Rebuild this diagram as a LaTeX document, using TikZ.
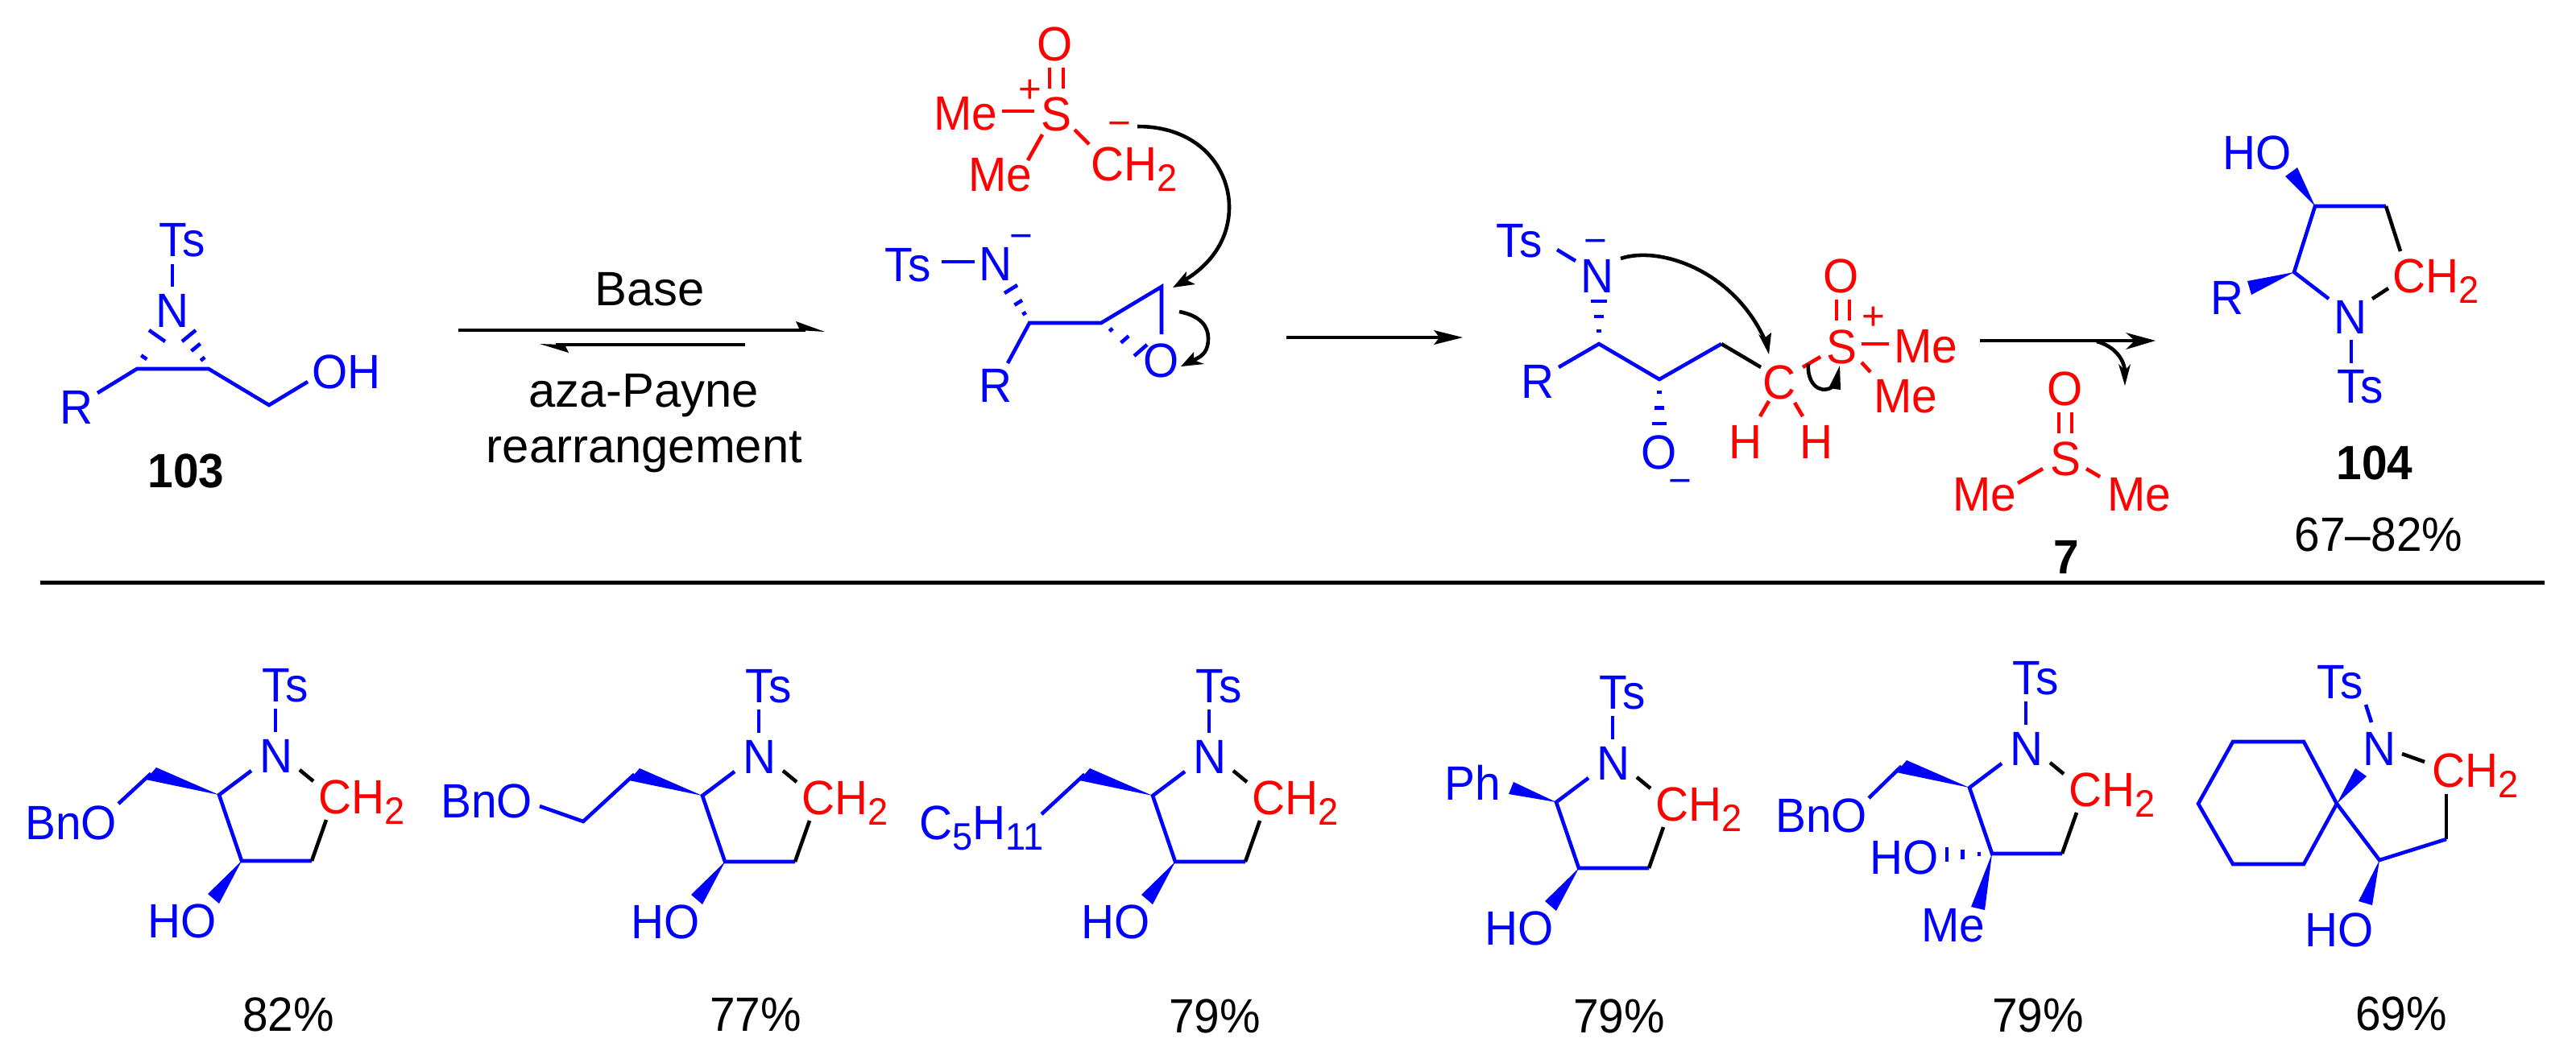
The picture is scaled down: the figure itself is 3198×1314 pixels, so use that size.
\documentclass[tikz,border=0pt]{standalone}
\usepackage{fontspec}
\setmainfont{Liberation Sans}
\newfontfamily\chemf[FakeStretch=0.95]{Liberation Sans}
\usetikzlibrary{calc}
\definecolor{chemblue}{RGB}{0,0,255}
\definecolor{chemred}{RGB}{255,0,0}
\newcommand{\sbs}[1]{\raisebox{-0.13cm}{\fontsize{13.5}{15}\selectfont #1}}
\tikzset{
  atom/.style={anchor=base,inner sep=0pt,font=\chemf\fontsize{17}{20}\selectfont},
  atomw/.style={atom,anchor=base west},
  lab/.style={anchor=base,inner sep=0pt,font=\fontsize{17}{20}\selectfont},
  num/.style={anchor=base,inner sep=0pt,font=\chemf\fontsize{17}{20}\selectfont\bfseries},
  chg/.style={anchor=base,yshift=-0.177cm,inner sep=0pt,font=\fontsize{14}{16}\selectfont},
  bd/.style={line width=1.3pt,chemblue},
  rd/.style={line width=1.3pt,chemred},
  bk/.style={line width=1.3pt,black},
  arw/.style={line width=1.3pt,black},
  head/.style={fill=black,draw=none},
  wedge/.style={fill=chemblue,draw=none}
}
% hashed bond: tip, two wide-end corners, list of fractions
\newcommand{\hashb}[4]{\foreach \t in {#4}{\draw[bd] ($(#1)!\t!(#2)$) -- ($(#1)!\t!(#3)$);}}
% common N-tosyl pyrrolidine skeleton
\newcommand{\pyr}[3]{%
\begin{scope}[shift={(#2,#3)}]
  \node[atom,chemblue] (#1N) at (343,959) {N};
  \node[atom,chemblue] (#1Ts) at (354,871) {Ts};
  \node[atomw,chemred] (#1CH) at (395,1010) {CH\sbs{2}};
  \path (342,880) coordinate (#1a) (342,909) coordinate (#1b)
        (272,987) coordinate (#1C2) (300,1069) coordinate (#1C3) (387,1069) coordinate (#1C4)
        (405,1018) coordinate (#1c) (312,957) coordinate (#1d)
        (372,956) coordinate (#1e) (389,970) coordinate (#1f);
  \draw[bd] (#1a) -- (#1b);
  \draw[bd] (#1d) -- (#1C2) -- (#1C3) -- (#1C4);
  \draw[bk] (#1C4) -- (#1c);
  \draw[bk] (#1e) -- (#1f);
\end{scope}}
% the 3-OH wedge
\newcommand{\hoW}[3]{%
\begin{scope}[shift={(#2,#3)}]
  \node[atom,chemblue] (#1HO) at (226,1164) {HO};
  \path (258,1110) coordinate (#1g) (272,1122) coordinate (#1h);
  \fill[wedge] (#1C3) -- (#1g) -- (#1h) -- cycle;
\end{scope}}
% the 2-substituent wedge plus a bond segment
\newcommand{\chW}[3]{%
\begin{scope}[shift={(#2,#3)}]
  \path (194,953) coordinate (#1i) (181,968) coordinate (#1j) (187.5,960.5) coordinate (#1k);
  \fill[wedge] (#1C2) -- (#1i) -- (#1j) -- cycle;
\end{scope}}
\begin{document}
\begin{tikzpicture}[x=0.01cm,y=-0.01cm]
\useasboundingbox (0,0) rectangle (3198,1314);

% ---------- compound 103
\node[atom,chemblue] (aTs) at (226,318) {Ts};
\node[atom,chemblue] (aN) at (214,406) {N};
\node[atom,chemblue] (aR) at (95,526) {R};
\node[atom,chemblue] (aOH) at (430,482) {OH};
\node[num] (a103) at (231,605) {103};
\path (214,328) coordinate (a1) (214,356) coordinate (a2)
      (170,458) coordinate (aC1) (259,458) coordinate (aC2)
      (121,488) coordinate (a3) (334,503) coordinate (aC3) (382,474) coordinate (a4)
      (185,410) coordinate (a5) (205,424) coordinate (a6)
      (243,410) coordinate (a7) (226,424) coordinate (a8);
\draw[bd] (a1) -- (a2);
\draw[bd] (a3) -- (aC1) -- (aC2) -- (aC3) -- (a4);
\hashb{aC1}{a5}{a6}{1,0.35}
\hashb{aC2}{a7}{a8}{1,0.65,0.3}

% ---------- equilibrium arrows
\node[lab] (lBase) at (807,379) {Base};
\node[lab] (lAza) at (799,505) {aza-Payne};
\node[lab] (lRe) at (800,574) {rearrangement};
\path (569,410) coordinate (e1) (1000,410) coordinate (e2)
      (1024,412) coordinate (e3) (988,399) coordinate (e4) (993,410) coordinate (e5)
      (925,428) coordinate (e6) (690,428) coordinate (e7)
      (670,427) coordinate (e8) (706,438) coordinate (e9) (701,428) coordinate (e10);
\draw[arw] (e1) -- (e2);
\fill[head] (e3) -- (e4) -- (e5) -- cycle;
\draw[arw] (e6) -- (e7);
\fill[head] (e8) -- (e9) -- (e10) -- cycle;

% ---------- sulfoxonium ylide (red)
\node[atom,chemred] (yO) at (1310,75) {O};
\node[atom,chemred] (yS) at (1311,162) {S};
\node[atom,chemred] (yMe1) at (1199,161) {Me};
\node[atom,chemred] (yMe2) at (1242,237) {Me};
\node[atomw,chemred] (yCH) at (1354,224) {CH\sbs{2}};
\node[chg,chemred] (yP) at (1279,110) {+};
\node[chg,chemred] (yM) at (1390,152) {−};
\path (1303,84) coordinate (y1) (1303,110) coordinate (y2)
      (1320,84) coordinate (y3) (1320,110) coordinate (y4)
      (1244,138) coordinate (y5) (1284,138) coordinate (y6)
      (1294,167) coordinate (y7) (1276,199) coordinate (y8)
      (1334,161) coordinate (y9) (1352,179) coordinate (y10);
\draw[rd] (y1) -- (y2);
\draw[rd] (y3) -- (y4);
\draw[rd] (y5) -- (y6);
\draw[rd] (y7) -- (y8);
\draw[rd] (y9) -- (y10);

% ---------- epoxide intermediate
\node[atom,chemblue] (bTs) at (1127,349) {Ts};
\node[atom,chemblue] (bN) at (1236,348) {N};
\node[chg,chemblue] (bM) at (1268,292) {−};
\node[atom,chemblue] (bR) at (1236,499) {R};
\node[atom,chemblue] (bO) at (1442,468) {O};
\path (1169,325) coordinate (b1) (1210,325) coordinate (b2)
      (1278,401) coordinate (bC1) (1367,401) coordinate (bC2) (1442,356) coordinate (bC3)
      (1442,415) coordinate (b3) (1251,451) coordinate (b4)
      (1247,364) coordinate (b5) (1263,354) coordinate (b6)
      (1408,442) coordinate (b7) (1424,428) coordinate (b8);
\draw[bd] (b1) -- (b2);
\draw[bd] (b4) -- (bC1) -- (bC2) -- (bC3) -- (b3);
\hashb{bC1}{b5}{b6}{1,0.6,0.28}
\hashb{bC2}{b7}{b8}{0.25,0.6,1}

% curved arrows on the epoxide
\path (1412,157) coordinate (c1) (1490,157) coordinate (c2) (1526,210) coordinate (c3)
      (1526,257) coordinate (c4) (1526,300) coordinate (c5) (1500,330) coordinate (c6)
      (1472,347) coordinate (c7) (1456,357) coordinate (c8) (1473,337) coordinate (c9) (1484,353) coordinate (c10);
\draw[arw] (c1) .. controls (c2) and (c3) .. (c4) .. controls (c5) and (c6) .. (c7);
\fill[head] (c8) -- (c9) -- (c7) -- (c10) -- cycle;
\path (1464,387) coordinate (d1) (1490,392) coordinate (d2) (1500,405) coordinate (d3)
      (1500,420) coordinate (d4) (1500,435) coordinate (d5) (1494,442) coordinate (d6)
      (1482,447) coordinate (d7) (1466,455) coordinate (d8) (1482,437) coordinate (d9) (1495,452) coordinate (d10);
\draw[arw] (d1) .. controls (d2) and (d3) .. (d4) .. controls (d5) and (d6) .. (d7);
\fill[head] (d8) -- (d9) -- (d7) -- (d10) -- cycle;

% ---------- middle arrow
\path (1597,419) coordinate (m1) (1787,419) coordinate (m2) (1816,419) coordinate (m3)
      (1780,410) coordinate (m4) (1780,428) coordinate (m5);
\draw[arw] (m1) -- (m2);
\fill[head] (m3) -- (m4) -- (m2) -- (m5) -- cycle;

% ---------- open-chain intermediate
\node[atom,chemblue] (fTs) at (1886,319) {Ts};
\node[atom,chemblue] (fN) at (1983,363) {N};
\node[chg,chemblue] (fM1) at (1981,298) {−};
\node[atom,chemblue] (fR) at (1909,494) {R};
\node[atom,chemblue] (fO) at (2060,582) {O};
\node[chg,chemblue] (fM2) at (2086,596) {−};
\node[atom,chemred] (fC) at (2209,495) {C};
\node[atom,chemred] (fH1) at (2167,569) {H};
\node[atom,chemred] (fH2) at (2255,569) {H};
\node[atom,chemred] (fS) at (2286,451) {S};
\node[atom,chemred] (fOs) at (2286,363) {O};
\node[chg,chemred] (fP) at (2326,392) {+};
\node[atom,chemred] (fMe1) at (2391,450) {Me};
\node[atom,chemred] (fMe2) at (2366,512) {Me};
\path (1933,310) coordinate (f1) (1956,324) coordinate (f2)
      (1985,427) coordinate (fC1) (2060,471) coordinate (fC2) (2137,427) coordinate (fC3)
      (1935,456) coordinate (f3) (2186,456) coordinate (f4)
      (1975,374) coordinate (f5) (1995,374) coordinate (f6)
      (2051,526) coordinate (f7) (2069,526) coordinate (f8)
      (2196,498) coordinate (f9) (2185,517) coordinate (f10)
      (2228,500) coordinate (f11) (2238,517) coordinate (f12)
      (2238,456) coordinate (f13) (2260,443) coordinate (f14)
      (2280,372) coordinate (f15) (2280,398) coordinate (f16)
      (2296,372) coordinate (f17) (2296,398) coordinate (f18)
      (2311,427) coordinate (f19) (2345,427) coordinate (f20)
      (2311,450) coordinate (f21) (2322,462) coordinate (f22);
\draw[bd] (f1) -- (f2);
\draw[bd] (f3) -- (fC1) -- (fC2) -- (fC3);
\draw[bk] (fC3) -- (f4);
\hashb{fC1}{f5}{f6}{1,0.64,0.3}
\hashb{fC2}{f7}{f8}{1,0.64,0.29}
\draw[rd] (f9) -- (f10);
\draw[rd] (f11) -- (f12);
\draw[rd] (f13) -- (f14);
\draw[rd] (f15) -- (f16);
\draw[rd] (f17) -- (f18);
\draw[rd] (f19) -- (f20);
\draw[rd] (f21) -- (f22);
% curved arrows
\path (2012,321) coordinate (g1) (2060,305) coordinate (g2) (2150,335) coordinate (g3)
      (2190,420) coordinate (g4) (2196,440) coordinate (g5) (2183,415) coordinate (g6) (2199,413) coordinate (g7);
\draw[arw] (g1) .. controls (g2) and (g3) .. (g4);
\fill[head] (g5) -- (g6) -- (g4) -- (g7) -- cycle;
\path (2245,452) coordinate (h1) (2243,475) coordinate (h2) (2258,490) coordinate (h3)
      (2274,481) coordinate (h4) (2284,454) coordinate (h5) (2270,482) coordinate (h6) (2285,484) coordinate (h7);
\draw[arw] (h1) .. controls (h2) and (h3) .. (h4);
\fill[head] (h5) -- (h6) -- (h7) -- cycle;

% ---------- last arrow
\path (2458,423) coordinate (k1) (2650,423) coordinate (k2) (2676,423) coordinate (k3)
      (2639,413) coordinate (k4) (2639,434) coordinate (k5)
      (2603,424) coordinate (k6) (2625,430) coordinate (k7) (2636,445) coordinate (k8) (2638,460) coordinate (k9)
      (2638,479) coordinate (k10) (2630,452) coordinate (k11) (2645,452) coordinate (k12);
\draw[arw] (k1) -- (k2);
\fill[head] (k3) -- (k4) -- (k2) -- (k5) -- cycle;
\draw[arw] (k6) .. controls (k7) and (k8) .. (k9);
\fill[head] (k10) -- (k11) -- (k9) -- (k12) -- cycle;

% ---------- DMSO 7
\node[atom,chemred] (sO) at (2564,503) {O};
\node[atom,chemred] (sS) at (2564,590) {S};
\node[atom,chemred] (sMe1) at (2464,634) {Me};
\node[atom,chemred] (sMe2) at (2656,634) {Me};
\node[num] (s7) at (2565,712) {7};
\path (2556,512) coordinate (s1) (2556,538) coordinate (s2)
      (2572,512) coordinate (s3) (2572,538) coordinate (s4)
      (2536,582) coordinate (s5) (2505,600) coordinate (s6)
      (2590,582) coordinate (s8) (2607,592) coordinate (s9);
\draw[rd] (s1) -- (s2);
\draw[rd] (s3) -- (s4);
\draw[rd] (s5) -- (s6);
\draw[rd] (s8) -- (s9);

% ---------- product 104
\node[atom,chemblue] (pHO) at (2802,210) {HO};
\node[atom,chemblue] (pR) at (2765,390) {R};
\node[atom,chemblue] (pN) at (2918,414) {N};
\node[atom,chemblue] (pTs) at (2930,500) {Ts};
\node[atomw,chemred] (pCH) at (2970,363) {CH\sbs{2}};
\node[num] (p104) at (2948,595) {104};
\node[atom] (pY) at (2953,684) {67–82\%};
\path (2874,256) coordinate (pC1) (2962,256) coordinate (pC2) (2980,312) coordinate (p1)
      (2848,338) coordinate (pC3) (2891,371) coordinate (p2)
      (2945,371) coordinate (p3) (2965,358) coordinate (p4)
      (2919,422) coordinate (p5) (2919,451) coordinate (p6)
      (2837,219) coordinate (p7) (2852,208) coordinate (p8)
      (2790,349) coordinate (p9) (2795,366) coordinate (p10);
\draw[bd] (pC2) -- (pC1) -- (pC3) -- (p2);
\draw[bk] (pC2) -- (p1);
\draw[bk] (p3) -- (p4);
\draw[bd] (p5) -- (p6);
\fill[wedge] (pC1) -- (p7) -- (p8) -- cycle;
\fill[wedge] (pC3) -- (p9) -- (p10) -- cycle;

% ---------- separator
\path (50,723.5) coordinate (r1) (3159,723.5) coordinate (r2);
\draw[black,line width=1.4pt] (r1) -- (r2);

% ---------- example A
\pyr{A}{0}{0}
\hoW{A}{0}{0}
\chW{A}{0}{0}
\node[atom,chemblue] (ABn) at (88,1042) {BnO};
\path (147,998) coordinate (A1);
\draw[bd] (Ak) -- (A1);
\node[atom] (AY) at (358,1280) {82\%};

% ---------- example B
\pyr{B}{600}{1}
\hoW{B}{600}{1}
\chW{B}{600}{1}
\node[atom,chemblue] (BBn) at (604,1015) {BnO};
\path (724,1020) coordinate (B1) (670,1001) coordinate (B2);
\draw[bd] (Bk) -- (B1) -- (B2);
\node[atom] (BY) at (938,1280) {77\%};

% ---------- example C
\pyr{C}{1159}{1}
\hoW{C}{1159}{1}
\chW{C}{1159}{1}
\node[atom,chemblue,anchor=base west] (CR) at (1141,1042) {C\sbs{5}H\sbs{11}};
\path (1293,1011) coordinate (C1);
\draw[bd] (Ck) -- (C1);
\node[atom] (CY) at (1508,1282) {79\%};

% ---------- example D
\pyr{D}{1660}{9}
\hoW{D}{1660}{9}
\node[atom,chemblue] (DPh) at (1828,993) {Ph};
\path (1879,971) coordinate (D1) (1873,986) coordinate (D2);
\fill[wedge] (DC2) -- (D1) -- (D2) -- cycle;
\node[atom] (DY) at (2010,1282) {79\%};

% ---------- example E
\pyr{E}{2173}{-9}
\chW{E}{2173}{-9}
\node[atom,chemblue] (EBn) at (2261,1033) {BnO};
\node[atom,chemblue] (EHO) at (2364,1085) {HO};
\node[atom,chemblue] (EMe) at (2425,1169) {Me};
\path (2320,991) coordinate (E1)
      (2417,1052) coordinate (E2) (2417,1070) coordinate (E3)
      (2447,1126) coordinate (E4) (2464,1130) coordinate (E5);
\draw[bd] (Ek) -- (E1);
\hashb{EC3}{E2}{E3}{1,0.65,0.29}
\fill[wedge] (EC3) -- (E4) -- (E5) -- cycle;
\node[atom] (EY) at (2530,1281) {79\%};

% ---------- example F (spiro)
\node[atom,chemblue] (FTs) at (2905,867) {Ts};
\node[atom,chemblue] (FN) at (2954,950) {N};
\node[atomw,chemred] (FCH) at (3019,977) {CH\sbs{2}};
\node[atom,chemblue] (FHO) at (2904,1175) {HO};
\node[atom] (FY) at (2981,1279) {69\%};
\path (2937,875) coordinate (F1) (2944,897) coordinate (F2)
      (2982,936) coordinate (F3) (3010,946) coordinate (F4)
      (3037,986) coordinate (F5) (3037,1042) coordinate (F6)
      (2954,1068) coordinate (F7) (2901,998) coordinate (F8)
      (2860,921) coordinate (F9) (2772,921) coordinate (F10) (2729,998) coordinate (F11)
      (2772,1073) coordinate (F12) (2860,1073) coordinate (F13)
      (2924,954) coordinate (F14) (2938,964) coordinate (F15)
      (2928,1119) coordinate (F16) (2945,1124) coordinate (F17);
\draw[bd] (F1) -- (F2);
\draw[bk] (F3) -- (F4);
\draw[bk] (F5) -- (F6);
\draw[bd] (F6) -- (F7) -- (F8);
\draw[bd] (F8) -- (F9) -- (F10) -- (F11) -- (F12) -- (F13) -- cycle;
\fill[wedge] (F8) -- (F14) -- (F15) -- cycle;
\fill[wedge] (F7) -- (F16) -- (F17) -- cycle;
\end{tikzpicture}
\end{document}
